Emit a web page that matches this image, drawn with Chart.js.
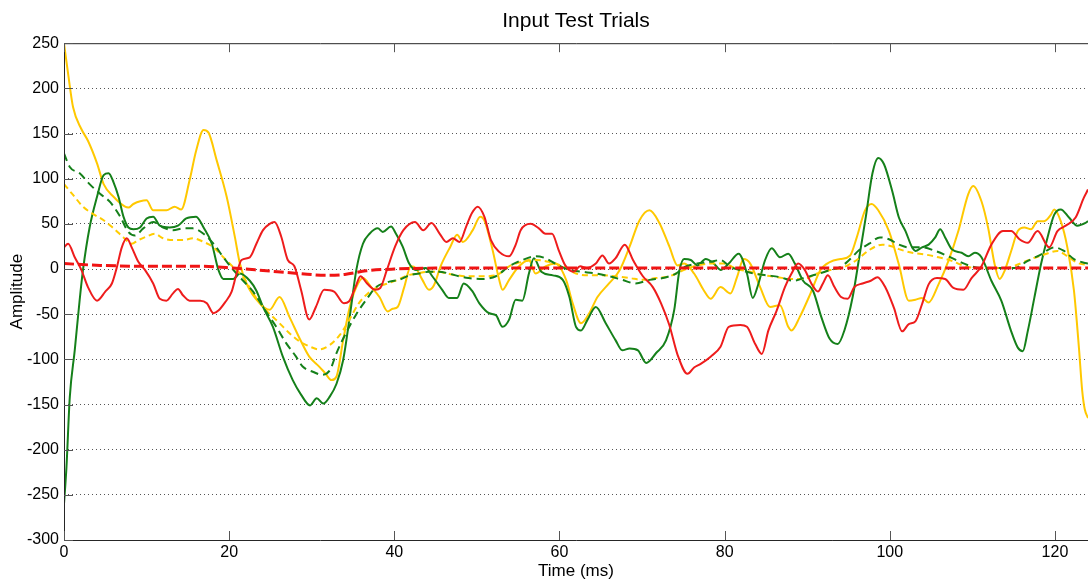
<!DOCTYPE html>
<html>
<head>
<meta charset="utf-8">
<script src="https://cdn.jsdelivr.net/npm/chart.js@4.4.1/dist/chart.umd.min.js"></script>
<style>
  html, body { margin: 0; padding: 0; background: #fff; }
</style>
</head>
<body>
<canvas id="chart" width="1088" height="579"></canvas>
<script>
// [time (ms), amplitude]
const yellowSolid = [[0,250],[0.5,216],[1.1,179],[2.1,155],[2.9,142],[4,117],[4.8,94],[6,80],[7.4,69],[7.8,68],[8.4,72],[10,76],[10.8,65],[12.4,65],[13.4,69],[14.2,66],[15.2,98],[16,131],[16.9,154],[17.5,151],[18.5,120],[19.7,80],[20.7,35],[21.3,6],[22.1,-16],[23.7,-38],[24.9,-45],[26.1,-31],[27.3,-53],[28.7,-80],[29.7,-97],[30.9,-108],[31.6,-115],[32.4,-123],[33,-119],[33.8,-79],[34.6,-42],[35.4,-20],[36.2,-10],[37.2,-20],[38.2,-31],[39.2,-47],[39.8,-44],[40.4,-42],[41.2,-20],[42,3],[42.6,1],[43.4,-12],[44.2,-23],[44.8,-18],[45.6,3],[46.8,25],[47.6,38],[48.3,30],[49.5,43],[50.4,58],[50.9,54],[51.9,21],[52.7,-12],[53.1,-23],[53.9,-12],[55.1,3],[56.3,10],[57.1,-5],[58.3,3],[59.5,6],[60.8,-12],[61.6,-38],[62.6,-60],[63.6,-49],[64.6,-31],[66,-16],[67.3,-1],[68.5,25],[69.7,54],[70.9,65],[72.1,51],[73.3,25],[74.3,4],[75.1,6],[76.3,-5],[77.5,-24],[78.3,-33],[79.5,-20],[80.7,-27],[81.5,-9],[82.3,11],[83.1,6],[84.3,-20],[85.5,-42],[86.7,-40],[87.7,-64],[88.1,-68],[89.1,-53],[90.4,-27],[91.6,-1],[92.8,8],[94,11],[95.2,15],[96,35],[97,65],[97.8,72],[98.6,65],[99.9,42],[101.1,5],[102.3,-35],[103.1,-34],[103.9,-32],[104.7,-37],[105.9,-17],[107.1,9],[108.3,42],[109.5,83],[110.1,92],[111.1,75],[111.9,46],[112.7,5],[113.3,-11],[113.9,-2],[114.7,20],[115.5,42],[116.3,46],[117.1,44],[117.9,53],[118.7,53],[119.5,60],[119.9,66],[120.7,53],[121.5,24],[122.3,-24],[122.9,-87],[123.3,-135],[123.6,-155],[124,-165]];

const greenSolid = [[0,-260],[0.3,-219],[0.7,-142],[1.3,-90],[1.9,-34],[2.3,-1],[3.1,46],[4,80],[4.8,104],[5.4,106],[6,96],[6.6,80],[7.2,58],[7.8,46],[8.4,44],[9.2,46],[10,56],[10.8,58],[11.6,48],[12.8,46],[13.8,48],[14.8,56],[16,58],[16.9,46],[17.9,28],[18.7,-1],[19.3,-11],[20.5,-11],[21.3,-5],[22.5,-13],[23.3,-24],[24.1,-42],[25.3,-64],[26.5,-97],[27.7,-123],[28.7,-139],[29.8,-151],[30.6,-143],[31.4,-149],[32.2,-141],[33,-127],[33.8,-101],[34.6,-53],[35.4,-1],[36.2,28],[37,39],[38,45],[38.6,41],[39.6,47],[40.2,39],[41,25],[41.8,6],[42.6,-1],[43.8,1],[44.6,-8],[45.8,-23],[46.6,-32],[47.6,-32],[48.4,-16],[49.4,-24],[50.3,-38],[51.5,-49],[52.3,-51],[53.1,-64],[53.9,-56],[54.7,-34],[55.5,-35],[56.3,-5],[56.9,12],[57.8,-3],[59.2,-7],[60.4,-12],[61.2,-31],[62,-64],[62.6,-68],[63.4,-56],[64.4,-42],[65.6,-60],[66.8,-79],[67.6,-90],[68.5,-88],[69.5,-90],[70.5,-104],[71.7,-93],[72.9,-79],[73.9,-45],[74.5,-3],[75.1,11],[75.9,10],[76.7,4],[77.7,11],[78.7,6],[79.5,-1],[80.5,6],[81.7,17],[82.7,-5],[83.4,-32],[84.1,-16],[84.9,10],[85.7,23],[86.7,13],[87.7,17],[88.5,6],[89.5,-13],[90.7,-24],[91.7,-53],[92.7,-77],[93.7,-83],[94.5,-68],[95.5,-31],[96.3,13],[97.1,58],[97.9,106],[98.6,123],[99.3,116],[100.3,86],[101.1,57],[101.9,42],[102.7,24],[103.1,20],[103.9,24],[104.7,27],[105.5,35],[106.1,44],[106.7,35],[107.5,22],[108.7,18],[109.5,14],[110.3,18],[111.1,13],[112.3,-13],[113.5,-35],[114.7,-69],[115.5,-87],[116.1,-91],[116.7,-69],[117.5,-32],[118.3,5],[119.1,35],[119.9,60],[120.7,66],[121.7,57],[122.7,48],[123.7,51],[124,53]];

const redSolid = [[0,24],[0.5,28],[1.3,13],[2.1,-1],[2.9,-20],[4,-35],[5,-25],[5.8,-16],[6.4,2],[7,24],[7.6,34],[8.2,24],[9,8],[9.8,-1],[10.8,-16],[11.6,-33],[12.4,-35],[13.2,-27],[13.8,-22],[14.4,-29],[15.2,-35],[16.5,-35],[17.3,-38],[18.1,-49],[18.7,-46],[19.5,-37],[20.3,-25],[20.9,-5],[21.5,10],[22.5,13],[23.3,28],[24.1,43],[24.9,50],[25.5,52],[26.3,36],[27.1,10],[27.9,3],[28.7,-23],[29.7,-56],[30.5,-42],[31.5,-23],[32.7,-25],[33.9,-38],[34.5,-36],[35.3,-20],[35.9,-8],[36.7,-16],[37.7,-23],[38.3,-21],[39.1,-1],[40.1,25],[41.1,43],[42.5,52],[43.5,43],[44.5,51],[45.5,39],[46.3,30],[47.1,34],[47.9,30],[48.7,47],[49.4,62],[50.1,69],[50.9,58],[51.7,32],[52.7,19],[53.9,14],[54.7,27],[55.3,43],[56.5,50],[57.5,45],[58.3,39],[59.1,39],[59.9,21],[60.7,4],[61.7,-3],[62.5,3],[63.3,1],[64.4,6],[65.2,15],[66,6],[66.8,12],[67.9,27],[68.9,10],[70.1,-8],[71.3,-20],[72.3,-38],[73.3,-62],[74.3,-95],[75.5,-116],[76.3,-109],[77.1,-105],[78.3,-97],[79.5,-86],[80.5,-64],[81.9,-62],[82.7,-64],[83.7,-83],[84.5,-94],[85.3,-68],[86.3,-46],[87.3,-20],[88.1,-5],[88.9,6],[89.7,-1],[90.5,-16],[91.3,-25],[91.9,-16],[92.5,-7],[93.3,-20],[94.1,-31],[94.9,-33],[95.7,-20],[96.7,-16],[97.7,-13],[98.5,-9],[99.5,-21],[100.5,-43],[101.5,-69],[102.3,-61],[103.1,-58],[103.9,-39],[104.7,-17],[105.7,-10],[106.7,-11],[107.7,-21],[108.9,-23],[109.9,-10],[111.1,3],[112.3,27],[113.7,42],[114.7,42],[115.7,33],[116.7,29],[117.9,42],[119.3,24],[120.3,42],[121.3,48],[122.5,57],[123.5,79],[124,88]];

const greenDashed = [[0,128],[0.7,113],[1.9,106],[3.1,94],[4.4,83],[5.6,74],[6.8,58],[7.8,41],[8.6,37],[9.6,45],[10.8,52],[12,46],[13.2,43],[14.5,45],[15.6,45],[16.9,39],[18.1,28],[19.3,13],[20.5,-1],[21.7,-13],[22.9,-25],[24.3,-45],[25.7,-64],[26.9,-82],[28.1,-97],[28.9,-108],[30.2,-114],[31.2,-117],[32.2,-112],[33,-93],[34.2,-70],[35.4,-50],[36.6,-34],[37.8,-20],[39.4,-14],[40.6,-12],[41.8,-7],[43,-5],[44.2,-3],[45.4,-3],[46.6,-5],[47.8,-8],[49,-10],[50.7,-11],[52.3,-8],[53.9,3],[55.5,10],[57.1,14],[58.3,12],[59.5,6],[61.2,-1],[62.7,-3],[64.4,-5],[66,-8],[67.6,-12],[69.2,-16],[70.9,-12],[72.5,-10],[74.1,-5],[75.1,2],[76.7,6],[78.3,8],[79.5,10],[80.7,2],[81.9,-1],[83.5,-5],[85.1,-7],[86.7,-9],[88.3,-13],[89.9,-9],[91.5,-5],[92.8,-1],[94,2],[95.2,11],[96.3,21],[97.5,28],[98.8,35],[99.9,33],[101.1,27],[102.3,24],[103.9,24],[105.5,20],[107.1,14],[108.7,7],[110.3,2],[111.9,1],[113.5,1],[115.1,1],[116.7,9],[118.3,16],[119.9,24],[121.1,20],[122.3,11],[123.5,7],[124,6]];

const yellowDashed = [[0,94],[1.1,82],[2.3,69],[3.5,61],[4.8,54],[6,45],[7.2,35],[8.2,28],[9,32],[10,36],[11,39],[12,34],[13.2,32],[14.4,32],[15.6,34],[16.9,30],[18.1,24],[19.3,13],[20.5,2],[21.7,-9],[22.9,-27],[24.1,-42],[26.1,-60],[27.3,-71],[28.5,-80],[29.8,-86],[30.9,-89],[32.2,-84],[33.4,-73],[34.5,-57],[35.7,-38],[36.8,-27],[38,-20],[39.2,-16],[40.4,-12],[41.6,-7],[42.8,-5],[44,-3],[45.2,-3],[46.4,-5],[47.6,-7],[48.8,-8],[50.7,-8],[52.3,-7],[53.9,3],[55.5,8],[57.1,10],[58.7,8],[60.4,3],[62,-5],[63.6,-7],[65.2,-7],[66.8,-8],[68.5,-10],[70.1,-12],[71.7,-10],[73.3,-8],[75.1,-1],[76.7,4],[78.3,6],[79.9,6],[81.5,0],[83.1,-3],[84.8,-7],[86.4,-9],[88,-11],[89.6,-11],[91.2,-5],[92.8,-1],[94.4,2],[96,10],[97.5,21],[99.1,27],[100.3,25],[101.1,22],[102.7,18],[104.3,16],[105.9,13],[107.5,9],[109.1,3],[110.8,1],[112.3,1],[113.9,1],[115.5,5],[117.1,11],[118.7,16],[120.3,20],[121.5,14],[122.7,7],[123.7,5],[124,5]];

const redDashed = [[0,6],[4.4,4],[10.4,3],[16.5,3],[20.5,1],[24.5,-2],[28.5,-5],[31.8,-7],[34,-6],[36.6,-2],[40,0],[45,1],[60,1],[80,1],[100,1],[124,1]];

const xTicks = [0, 20, 40, 60, 80, 100, 120];

const FONT = "'Liberation Sans', Arial, Helvetica, sans-serif";

const toPoints = arr => arr.map(p => ({x: p[0], y: p[1]}));

const series = [
    {data: redDashed, color: '#f01414', width: 3, dash: [10, 4]},
    {data: redSolid, color: '#ee1c1c', width: 2, dash: []},
    {data: greenDashed, color: '#15801a', width: 2, dash: [8, 5]},
    {data: yellowDashed, color: '#ffcc00', width: 2, dash: [6, 4]},
    {data: greenSolid, color: '#15801a', width: 2, dash: []},
    {data: yellowSolid, color: '#ffc800', width: 2, dash: []},
];

// MATLAB style box with inward tick marks
const boxPlugin = {
    id: 'box',
    afterDraw(chart) {
        const {ctx, chartArea: {left, top, right, bottom}, scales: {x, y}} = chart;
        ctx.save();
        ctx.strokeStyle = '#262626';
        ctx.lineWidth = 1;
        ctx.beginPath();
        ctx.moveTo(left + 0.5, top + 0.5);
        ctx.lineTo(right, top + 0.5);
        ctx.moveTo(left + 0.5, top);
        ctx.lineTo(left + 0.5, bottom + 0.5);
        ctx.lineTo(right, bottom + 0.5);
        ctx.stroke();
        ctx.strokeStyle = '#555';
        ctx.beginPath();
        xTicks.forEach(v => {
            const px = Math.round(x.getPixelForValue(v)) + 0.5;
            ctx.moveTo(px, bottom);
            ctx.lineTo(px, bottom - 9);
            ctx.moveTo(px, top);
            ctx.lineTo(px, top + 9);
        });
        y.ticks.forEach(t => {
            const py = Math.round(y.getPixelForValue(t.value)) + 0.5;
            ctx.moveTo(left, py);
            ctx.lineTo(left + 9, py);
        });
        ctx.stroke();
        ctx.restore();
    }
};

new Chart(document.getElementById('chart'), {
    type: 'line',
    data: {
        datasets: series.map(s => ({
            data: toPoints(s.data),
            borderColor: s.color,
            borderWidth: s.width,
            borderDash: s.dash,
            pointRadius: 0,
            fill: false,
            cubicInterpolationMode: 'monotone'
        }))
    },
    options: {
        responsive: false,
        animation: false,
        layout: { padding: 0 },
        plugins: {
            legend: { display: false },
            tooltip: { enabled: false },
            title: {
                display: true,
                text: 'Input Test Trials',
                fullSize: false,
                color: '#000',
                font: { family: FONT, size: 21, weight: 'normal' },
                padding: { top: 9, bottom: 9 }
            }
        },
        scales: {
            x: {
                type: 'linear',
                min: 0,
                max: 124,
                afterFit: s => { s.height = 39; },
                afterBuildTicks: s => { s.ticks = xTicks.map(v => ({value: v})); },
                grid: { display: false, drawTicks: false, tickLength: 0 },
                border: { display: false },
                ticks: {
                    color: '#000',
                    font: { family: FONT, size: 16 },
                    padding: 3,
                    maxRotation: 0,
                    autoSkip: false
                },
                title: {
                    display: true,
                    text: 'Time (ms)',
                    color: '#000',
                    font: { family: FONT, size: 17 },
                    padding: { top: 0, bottom: -3 }
                }
            },
            y: {
                min: -300,
                max: 250,
                afterFit: s => { s.width = 64; },
                ticks: {
                    stepSize: 50,
                    color: '#000',
                    font: { family: FONT, size: 16 },
                    padding: 5
                },
                grid: {
                    drawTicks: false,
                    tickLength: 0,
                    lineWidth: 1,
                    color: ctx => (ctx.tick && (ctx.tick.value === 250 || ctx.tick.value === -300)) ? 'rgba(0,0,0,0)' : '#555'
                },
                border: { display: false, dash: [1, 3] },
                title: {
                    display: true,
                    text: 'Amplitude',
                    color: '#000',
                    font: { family: FONT, size: 17 },
                    padding: { top: 7, bottom: 0 }
                }
            }
        }
    },
    plugins: [boxPlugin]
});
</script>
</body>
</html>
